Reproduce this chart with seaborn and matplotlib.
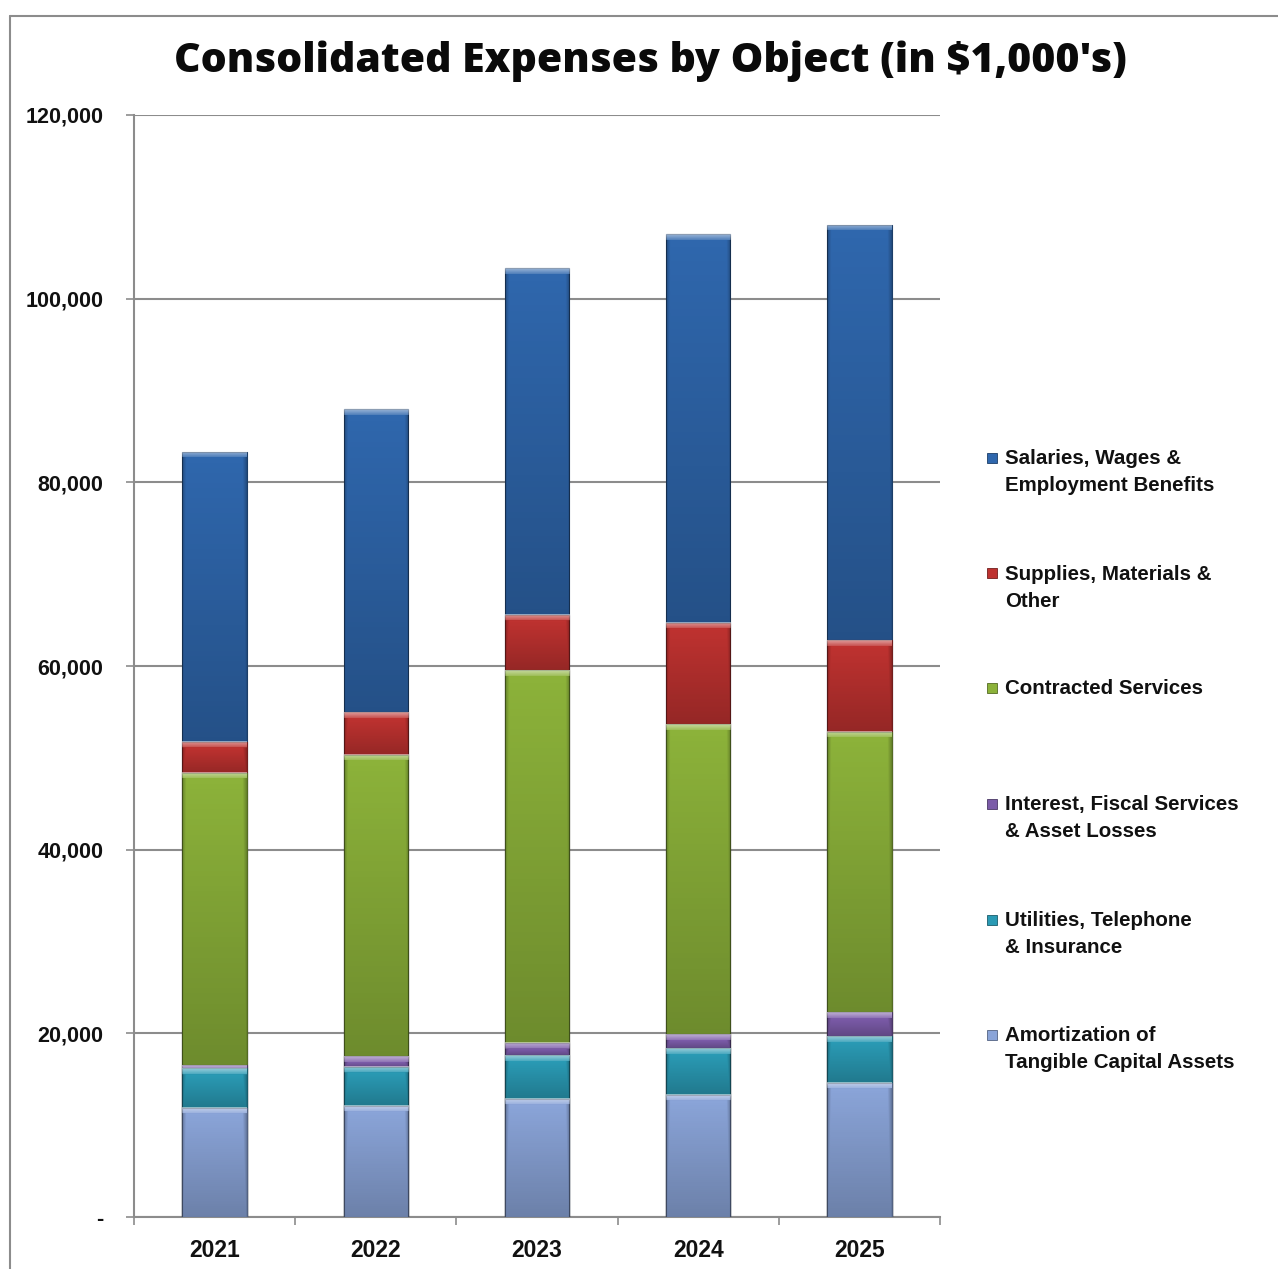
import numpy as np
import pandas as pd
import matplotlib
matplotlib.use("Agg")
import matplotlib.pyplot as plt
from matplotlib.patches import Rectangle
from matplotlib.lines import Line2D
from matplotlib.ticker import FuncFormatter, FixedLocator
import matplotlib.colors as mcolors
import seaborn as sns

# ---- data (in $1,000's) ----
years = ["2021", "2022", "2023", "2024", "2025"]
amortization = [11900, 12100, 12900, 13300, 14600]
utilities = [4300, 4250, 4750, 5100, 5100]
interest = [300, 1150, 1350, 1500, 2600]
contracted = [31800, 32850, 40550, 33750, 30500]
supplies = [3400, 4650, 6000, 11000, 10000]
salaries = [31650, 32950, 37750, 42350, 45200]

series_names = [
    "Amortization of\nTangible Capital Assets",
    "Utilities, Telephone\n& Insurance",
    "Interest, Fiscal Services\n& Asset Losses",
    "Contracted Services",
    "Supplies, Materials &\nOther",
    "Salaries, Wages &\nEmployment Benefits",
]
series_values = [amortization, utilities, interest, contracted, supplies, salaries]
series_colors = ["#8AA4D8", "#2A9AB4", "#7B5BA8", "#8CB23A", "#BE3230", "#2F67AD"]

y_ticks = [0, 20000, 40000, 60000, 80000, 100000, 120000]

# ---- theme ----
sns.set_theme(style="white")
text_family = ["Liberation Sans Narrow", "Liberation Sans", "DejaVu Sans"]
plt.rcParams["font.family"] = text_family

W, H = 1278, 1269
fig = plt.figure(figsize=(W / 100, H / 100), dpi=100)
ax = fig.add_axes([134 / W, 1 - 1217 / H, (940 - 134) / W, (1217 - 115) / H])

df = pd.DataFrame({"year": years})
stack = np.cumsum(np.array(series_values, dtype=float), axis=0)
df_bottoms = np.vstack([np.zeros(len(years)), stack[:-1]])

ymax = 120000
px_per_unit = (1217 - 115) / ymax


def bevel_overlay(x0, x1, y0, y1):
    """RGBA shading for one bar segment: light top bevel, darker base and sides."""
    h_px = max(int(round((y1 - y0) * px_per_unit)), 2)
    cols = 64
    img = np.zeros((h_px, cols, 4))
    band = 6
    for r in range(h_px):
        if r < band:
            img[r, :, :3] = 1.0
            img[r, :, 3] = 0.38 * (1 - r / band) + 0.12
        else:
            frac = (r - band) / max(h_px - band, 1)
            img[r, :, 3] = 0.22 * frac
    # darken the two vertical sides below the bevel
    side = np.linspace(0.25, 0.0, 5)
    for i, a in enumerate(side):
        for c in (i, cols - 1 - i):
            img[band:, c, :3] = 0.0
            img[band:, c, 3] = np.maximum(img[band:, c, 3], a)
    return img


# draw stacked bars from the tallest cumulative layer downwards
for k in range(len(series_values) - 1, -1, -1):
    df["total"] = stack[k]
    n_before = len(ax.patches)
    edge = tuple(np.array(mcolors.to_rgb(series_colors[k])) * 0.6)
    sns.barplot(data=df, x="year", y="total", color=series_colors[k],
                saturation=1, width=0.4, edgecolor=edge, linewidth=0.8,
                zorder=2 * (len(series_values) - k) + 2, ax=ax)
    new_patches = ax.patches[n_before:]
    for j, p in enumerate(new_patches):
        x0 = p.get_x()
        x1 = x0 + p.get_width()
        y1 = p.get_y() + p.get_height()
        y0 = df_bottoms[k][j]
        ov = bevel_overlay(x0, x1, y0, y1)
        ax.imshow(ov, extent=(x0, x1, y0, y1), aspect="auto", origin="upper",
                  interpolation="bilinear",
                  zorder=2 * (len(series_values) - k) + 3)

ax.set_xlim(-0.5, 4.5)
ax.set_ylim(0, ymax)

# axes styling
ax.set_xlabel("")
ax.set_ylabel("")
for s in ["top", "right"]:
    ax.spines[s].set_visible(False)
for s in ["left", "bottom"]:
    ax.spines[s].set_color("#8c8c8c")
    ax.spines[s].set_linewidth(1.5)

ax.yaxis.set_major_locator(FixedLocator(y_ticks))
ax.yaxis.set_major_formatter(FuncFormatter(lambda v, _: "-" if v == 0 else f"{int(v):,}"))
ax.grid(axis="y", color="#8c8c8c", linewidth=1.5, zorder=0)
ax.grid(axis="x", visible=False)
ax.set_axisbelow(True)

ax.tick_params(axis="y", which="major", left=True, length=6, width=1.2,
               color="#8c8c8c", pad=16, labelsize=15.5)
ax.tick_params(axis="x", which="major", bottom=False, pad=10, labelsize=16.5)
ax.set_xticks(np.arange(-0.5, 5, 1.0), minor=True)
ax.tick_params(axis="x", which="minor", bottom=True, length=6, width=1.2,
               color="#8c8c8c", direction="out")
for lab in ax.get_xticklabels() + ax.get_yticklabels():
    lab.set_fontweight("bold")
    lab.set_color("#111111")

# title
fig.text(650 / W, 1 - 61 / H, "Consolidated Expenses by Object (in $1,000's)",
         ha="center", va="center", fontsize=29.5, fontweight=800,
         family=["Open Sans", "DejaVu Sans"], color="#0a0a0a")

# legend, top entry first
legend_rows = [472, 588, 688, 818, 934, 1049]
for idx, k in enumerate(range(len(series_values) - 1, -1, -1)):
    yc = legend_rows[idx]
    n_lines = series_names[k].count("\n") + 1
    first_line = yc - (n_lines - 1) * 14.5
    fig.add_artist(Rectangle((987 / W, 1 - (first_line + 5) / H), 10 / W, 10 / H,
                             transform=fig.transFigure, facecolor=series_colors[k],
                             edgecolor=tuple(np.array(mcolors.to_rgb(series_colors[k])) * 0.6),
                             linewidth=0.6))
    fig.text(1005 / W, 1 - yc / H, series_names[k], ha="left", va="center",
             fontsize=14.8, fontweight="bold", linespacing=1.5, color="#111111")

# outer frame lines
fig.add_artist(Line2D([10 / W, 10 / W], [0, 1 - 16 / H], transform=fig.transFigure,
                      color="#8c8c8c", linewidth=1.5))
fig.add_artist(Line2D([10 / W, 1], [1 - 16 / H, 1 - 16 / H], transform=fig.transFigure,
                      color="#8c8c8c", linewidth=1.5))

fig.savefig("out.png", dpi=100)
